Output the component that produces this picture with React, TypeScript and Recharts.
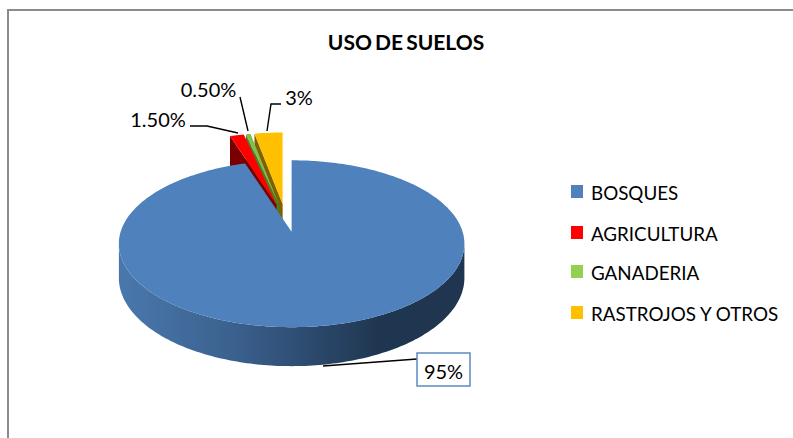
import { Legend, Pie, PieChart } from 'recharts'

const categories = ['BOSQUES', 'AGRICULTURA', 'GANADERIA', 'RASTROJOS Y OTROS']
const values = [95, 1.5, 0.5, 3]
const valueLabels = ['95%', '1.50%', '0.50%', '3%']
const colors = ['#4f81bd', '#ff0000', '#7fbf4a', '#ffc000']
const wallColors = ['#2c4d75', '#7a0000', '#4f7a28', '#7f6000']
const legendColors = ['#4f81bd', '#ff0000', '#92d050', '#ffc000']

// drawn in reverse and counter-clockwise so the big slice lands on top of the small ones
const data = categories
  .map((name, i) => ({ name, value: values[i], label: valueLabels[i], fill: colors[i], wall: wallColors[i] }))
  .reverse()

const SQUASH = 0.478
const TILT = -1 / 7
const DEPTH = 33.4
const EXPLODE_X = 36
const EXPLODE_Y = 14

const leaders: Record<string, { points: string; x: number; y: number }> = {
  BOSQUES: { points: '323,366 417,359', x: 443.5, y: 379 },
  AGRICULTURA: { points: '190,126 207,126 238,133', x: 158, y: 127 },
  GANADERIA: { points: '240,97 248,131', x: 208.5, y: 97 },
  'RASTROJOS Y OTROS': { points: '281,104 271,104 267,131', x: 299, y: 105 },
}

const RAD = Math.PI / 180

function project(r: number, deg: number) {
  const u = Math.cos(deg * RAD)
  const v = -Math.sin(deg * RAD)
  const w = 1 + TILT * v
  return { x: (r * u) / w, y: (r * SQUASH * v) / w, depth: DEPTH / w }
}

function arcAngles(from: number, to: number) {
  const steps = Math.max(2, Math.ceil(Math.abs(to - from)))
  return Array.from({ length: steps + 1 }, (_, i) => from + ((to - from) * i) / steps)
}

const toPath = (pts: Array<{ x: number; y: number }>) =>
  pts.map((p, i) => `${i ? 'L' : 'M'}${p.x.toFixed(1)},${p.y.toFixed(1)}`).join(' ') + ' Z'

function SolidSlice(props: any) {
  const { cx, cy, outerRadius, startAngle, endAngle, payload } = props
  const mid = (startAngle + endAngle) / 2
  const ox = cx + EXPLODE_X * Math.cos(mid * RAD)
  const oy = cy - EXPLODE_Y * Math.sin(mid * RAD)
  const at = (deg: number, drop = false) => {
    const p = project(outerRadius, deg)
    return { x: ox + p.x, y: oy + p.y + (drop ? p.depth : 0) }
  }
  const apex = { x: ox, y: oy }
  const top = [apex, ...arcAngles(startAngle, endAngle).map((a) => at(a))]

  if (payload.name === categories[0]) {
    // front rim of the big slice, only the part that faces the viewer
    const front = arcAngles(188, 352)
    const wall = [...front.map((a) => at(a)), ...front.slice().reverse().map((a) => at(a, true))]
    return (
      <g>
        <defs>
          <linearGradient id="rim" x1="0" y1="0" x2="1" y2="0">
            <stop offset="0" stopColor="#4a78ad" />
            <stop offset="0.35" stopColor="#3a5f8c" />
            <stop offset="0.75" stopColor="#1f3650" />
            <stop offset="1" stopColor="#1f3550" />
          </linearGradient>
        </defs>
        <path d={toPath(wall)} fill="url(#rim)" />
        <path d={toPath(top)} fill={payload.fill} />
      </g>
    )
  }

  // the cut face on the left side of each small wedge is what shows
  const leftAngle = Math.max(startAngle, endAngle)
  const edge = at(leftAngle)
  const dropApex = { x: ox, y: oy + DEPTH }
  const face = [apex, edge, at(leftAngle, true), dropApex]
  return (
    <g>
      <path d={toPath(face)} fill={payload.wall} />
      <path d={toPath(top)} fill={payload.fill} />
    </g>
  )
}

function SliceLabel(props: any) {
  const { payload } = props
  const name = payload.name
  const l = leaders[name]
  const boxed = name === categories[0]
  return (
    <g>
      <polyline points={l.points} fill="none" stroke="#000" strokeWidth={1.4} />
      {boxed && <rect x={417} y={353} width={53} height={33} fill="#fff" stroke="#5a8ac6" strokeWidth={1.5} />}
      <text x={l.x} y={l.y} textAnchor="middle" fontSize={20} fontFamily="Lato" fill="#000">
        {payload.label}
      </text>
    </g>
  )
}

function SideLegend() {
  const rows = [191, 232, 271, 312]
  return (
    <svg width={793} height={438} style={{ display: 'block' }}>
      {categories.map((name, i) => (
        <g key={name}>
          <rect x={571} y={rows[i] - 6} width={12} height={13} fill={legendColors[i]} />
          <text x={591} y={rows[i] + 8.5} fontSize={18.8} fontFamily="Lato" fill="#000">
            {name}
          </text>
        </g>
      ))}
    </svg>
  )
}

export default function App() {
  return (
    <div style={{ position: 'absolute', left: 0, top: 0, width: 793, height: 438, background: '#fff', overflow: 'hidden' }}>
      <div style={{ position: 'absolute', left: 7, top: 9, width: 790, height: 440, borderLeft: '2px solid #8c8c8c', borderTop: '2px solid #8c8c8c' }} />
      <div style={{ position: 'absolute', left: 306, width: 200, top: 30, textAlign: 'center', fontFamily: 'Lato', fontWeight: 700, fontSize: 21, wordSpacing: -2, color: '#000', lineHeight: '24px' }}>
        USO DE SUELOS
      </div>
      <PieChart width={793} height={438} margin={{ top: 0, right: 0, bottom: 0, left: 0 }} style={{ position: 'absolute', left: 0, top: 0 }}>
        <Pie
          data={data}
          dataKey="value"
          nameKey="name"
          cx={286}
          cy={218}
          outerRadius={171}
          startAngle={90}
          endAngle={450}
          stroke="none"
          shape={SolidSlice}
          label={SliceLabel}
          labelLine={false}
          isAnimationActive={false}
        />
        <Legend content={SideLegend} wrapperStyle={{ left: 0, top: 0, bottom: 'auto', width: 793, height: 438 }} />
      </PieChart>
    </div>
  )
}
